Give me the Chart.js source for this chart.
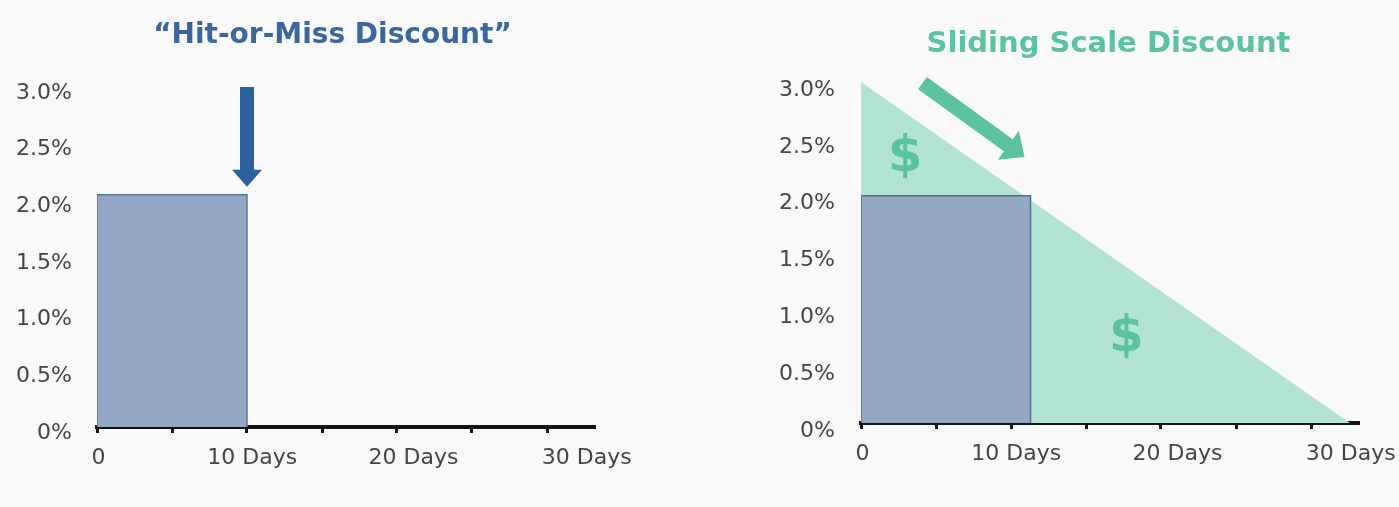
<!DOCTYPE html>
<html>
<head>
<meta charset="utf-8">
<script src="https://cdn.jsdelivr.net/npm/chart.js@4.4.1/dist/chart.umd.min.js"></script>
<style>
  html, body { margin: 0; padding: 0; background: #f9f9f9; overflow: hidden; }
  #wrap { position: relative; width: 1399px; height: 507px; overflow: hidden; }
  #hitChart { position: absolute; left: 0; top: 0; }
  #slideChart { position: absolute; left: 700px; top: 0; }
</style>
</head>
<body>
<div id="wrap">
  <canvas id="hitChart" width="700" height="507"></canvas>
  <canvas id="slideChart" width="760" height="507"></canvas>
</div>
<script>
// ------------------------------------------------------------------
// Daten (Tage / Rabatt in %)
// ------------------------------------------------------------------
const dayTicks = [0, 5, 10, 15, 20, 25, 30];
const dayLabels = ['0', '10 Days', '20 Days', '30 Days'];
const dayLabelPos = [0.1, 10.35, 21.1, 32.65];
const pctTicks = [0, 0.5, 1.0, 1.5, 2.0, 2.5, 3.0];

// "Hit-or-Miss": 2 % bis Tag 10
const hitDays = [0, 0, 10, 10];
const hitPct = [0, 2.05, 2.05, 0];

// Sliding Scale: von 3 % linear auf 0
const slideDays = [0, 32.6];
const slidePct = [3.0, 0];
const slideBarDays = [0, 0, 11.3, 11.3];
const slideBarPct = [0, 2.0, 2.0, 0];

// Titel, Pfeile und Dollarzeichen (Position in Tagen / %)
const hitTitle = { text: '\u201cHit-or-Miss Discount\u201d', at: [15.7, 3.45] };
const slideTitle = { text: 'Sliding Scale Discount', at: [16.5, 3.33] };
const hitArrow = { from: [10, 3.0], to: [10, 2.12] };
const slideArrow = { from: [4.1, 2.99], to: [10.9, 2.34] };
const dollarMarks = [[2.95, 2.33], [17.7, 0.75]];

// Farben
const blueFill = '#93a8c4';
const blueLine = '#5878a3';
const blueDark = '#2f609e';
const blueTitle = '#3a67a0';
const mint = '#5cc3a0';
const mintLight = '#b3e3d3';
const axisColor = '#141414';
const labelColor = '#454545';

Chart.defaults.font.family = 'DejaVu Sans';
Chart.defaults.color = labelColor;

function pts(xs, ys) {
  return xs.map((x, i) => ({ x: x, y: ys[i] }));
}

// ------------------------------------------------------------------
// Plugin: Titel, Pfeile und "$" in Datenkoordinaten zeichnen
// ------------------------------------------------------------------
const marksPlugin = {
  id: 'marks',
  afterDatasetsDraw(chart, args, opts) {
    const ctx = chart.ctx;
    const xs = chart.scales.x, ys = chart.scales.y;
    ctx.save();
    if (opts.title) {
      ctx.font = 'bold ' + opts.titleSize + 'px "DejaVu Sans"';
      ctx.fillStyle = opts.titleColor;
      ctx.textAlign = 'center';
      ctx.textBaseline = 'middle';
      ctx.fillText(opts.title.text, xs.getPixelForValue(opts.title.at[0]), ys.getPixelForValue(opts.title.at[1]));
    }
    (opts.arrows || []).forEach(a => {
      const x0 = xs.getPixelForValue(a.from[0]), y0 = ys.getPixelForValue(a.from[1]);
      const x1 = xs.getPixelForValue(a.to[0]), y1 = ys.getPixelForValue(a.to[1]);
      const len = Math.hypot(x1 - x0, y1 - y0);
      const ux = (x1 - x0) / len, uy = (y1 - y0) / len;
      const nx = -uy, ny = ux;
      const w = opts.shaft / 2, hw = opts.headWidth / 2, hl = opts.headLength;
      const bx = x1 - ux * hl, by = y1 - uy * hl;
      ctx.beginPath();
      ctx.moveTo(x0 + nx * w, y0 + ny * w);
      ctx.lineTo(bx + nx * w, by + ny * w);
      ctx.lineTo(bx + nx * hw, by + ny * hw);
      ctx.lineTo(x1, y1);
      ctx.lineTo(bx - nx * hw, by - ny * hw);
      ctx.lineTo(bx - nx * w, by - ny * w);
      ctx.lineTo(x0 - nx * w, y0 - ny * w);
      ctx.closePath();
      ctx.fillStyle = opts.arrowColor;
      ctx.fill();
    });
    (opts.dollars || []).forEach(d => {
      ctx.font = 'bold 50px "DejaVu Sans"';
      ctx.fillStyle = mint;
      ctx.textAlign = 'center';
      ctx.textBaseline = 'middle';
      ctx.fillText('$', xs.getPixelForValue(d[0]), ys.getPixelForValue(d[1]));
    });
    ctx.restore();
  }
};

// ------------------------------------------------------------------
// Gemeinsame Optionen
// ------------------------------------------------------------------
function buildOptions(cfg) {
  return {
    responsive: false,
    animation: false,
    devicePixelRatio: 1,
    layout: { padding: { left: 0, right: cfg.padRight, top: cfg.padTop, bottom: 0 } },
    plugins: {
      legend: { display: false },
      tooltip: { enabled: false },
      title: { display: false },
      marks: cfg.marks
    },
    scales: {
      x: {
        type: 'linear',
        position: 'bottom',
        weight: 0,
        min: 0,
        max: 33.2,
        afterBuildTicks: s => { s.ticks = dayTicks.map(v => ({ value: v })); },
        afterFit: s => { s.height = 6; },
        ticks: { display: false },
        grid: {
          display: true,
          drawOnChartArea: false,
          drawTicks: true,
          tickLength: 6,
          tickWidth: 3,
          tickColor: axisColor
        },
        border: { display: true, color: axisColor, width: 4 }
      },
      xl: {
        type: 'linear',
        axis: 'x',
        position: 'bottom',
        weight: 1,
        min: 0,
        max: 33.2,
        afterBuildTicks: s => { s.ticks = dayLabelPos.map(v => ({ value: v })); },
        afterFit: s => { s.height = cfg.labelAxisHeight; },
        ticks: {
          maxRotation: 0,
          autoSkip: false,
          padding: 4,
          font: { size: 22 },
          color: labelColor,
          callback: (v, i) => dayLabels[i]
        },
        grid: { display: false },
        border: { display: false }
      },
      y: {
        type: 'linear',
        min: 0,
        max: 3.0,
        afterBuildTicks: s => { s.ticks = pctTicks.map(v => ({ value: v })); },
        afterFit: s => { s.width = cfg.yWidth; },
        ticks: {
          padding: cfg.yPad,
          labelOffset: cfg.yLabelOffset,
          font: { size: 22 },
          color: labelColor,
          callback: v => (v === 0 ? '0%' : v.toFixed(1) + '%')
        },
        grid: { display: false },
        border: { display: false }
      }
    }
  };
}

// ------------------------------------------------------------------
// 1) "Hit-or-Miss Discount"
// ------------------------------------------------------------------
new Chart(document.getElementById('hitChart').getContext('2d'), {
  type: 'line',
  data: {
    datasets: [{
      data: pts(hitDays, hitPct),
      borderColor: blueLine,
      backgroundColor: blueFill,
      borderWidth: 1.5,
      fill: 'origin',
      pointRadius: 0,
      tension: 0
    }]
  },
  options: buildOptions({
    padTop: 87,
    padRight: 105,
    yWidth: 97,
    yPad: 17,
    yLabelOffset: 6,
    labelAxisHeight: 74,
    marks: {
      title: hitTitle,
      titleSize: 28,
      titleColor: blueTitle,
      arrows: [hitArrow],
      arrowColor: blueDark,
      shaft: 14,
      headWidth: 30,
      headLength: 17
    }
  }),
  plugins: [marksPlugin]
});

// ------------------------------------------------------------------
// 2) "Sliding Scale Discount"
// ------------------------------------------------------------------
new Chart(document.getElementById('slideChart').getContext('2d'), {
  type: 'line',
  data: {
    datasets: [
      {
        data: pts(slideBarDays, slideBarPct),
        borderColor: '#4d6f9c',
        backgroundColor: blueFill,
        borderWidth: 1.5,
        fill: 'origin',
        pointRadius: 0,
        tension: 0,
        order: 0
      },
      {
        data: pts(slideDays, slidePct),
        borderWidth: 0,
        borderColor: mintLight,
        backgroundColor: mintLight,
        fill: 'origin',
        pointRadius: 0,
        tension: 0,
        order: 1
      }
    ]
  },
  options: buildOptions({
    padTop: 82,
    padRight: 101,
    yWidth: 161,
    yPad: 18,
    yLabelOffset: 8,
    labelAxisHeight: 78,
    marks: {
      title: slideTitle,
      titleSize: 29,
      titleColor: mint,
      arrows: [slideArrow],
      dollars: dollarMarks,
      arrowColor: mint,
      shaft: 15,
      headWidth: 36,
      headLength: 20
    }
  }),
  plugins: [marksPlugin]
});
</script>
</body>
</html>
